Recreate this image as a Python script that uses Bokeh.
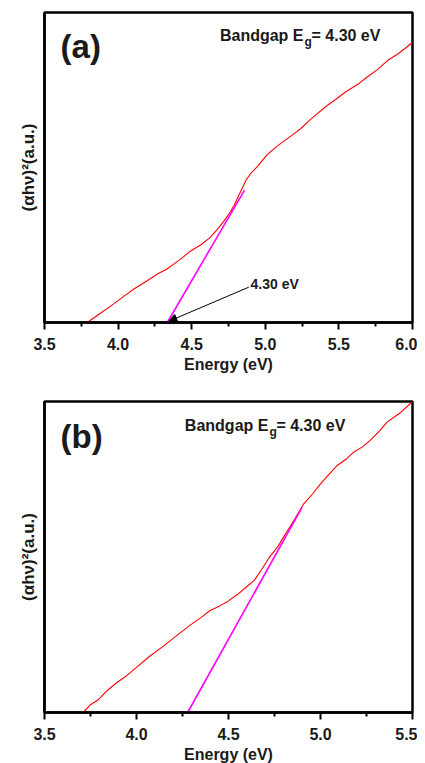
from bokeh.plotting import figure
from bokeh.layouts import column
from bokeh.models import Range1d, FixedTicker, PrintfTickFormatter, Arrow, NormalHead
from bokeh.core.properties import value
from bokeh.embed import file_html
from bokeh.resources import INLINE

# ---------------- data ----------------
# panel (a)
energy_a = [3.79, 3.88, 3.97, 4.04, 4.11, 4.19, 4.27, 4.33, 4.38, 4.44, 4.49, 4.56, 4.62, 4.67,
            4.72, 4.76, 4.79, 4.83, 4.87, 4.90, 4.95, 5.01, 5.07, 5.14, 5.19, 5.24, 5.30, 5.36,
            5.42, 5.48, 5.54, 5.58, 5.64, 5.69, 5.76, 5.83, 5.90, 5.96, 6.00]
signal_a = [0.0, 0.03, 0.06, 0.085, 0.109, 0.132, 0.157, 0.172, 0.189, 0.21, 0.23, 0.25, 0.272,
            0.298, 0.328, 0.355, 0.38, 0.42, 0.46, 0.48, 0.505, 0.54, 0.565, 0.59, 0.607, 0.625,
            0.652, 0.676, 0.70, 0.72, 0.742, 0.754, 0.772, 0.791, 0.815, 0.845, 0.866, 0.888, 0.904]
fit_x_a = [4.334, 4.858]
fit_y_a = [0.0, 0.426]

# panel (b)
energy_b = [3.71, 3.75, 3.79, 3.84, 3.89, 3.95, 4.00, 4.07, 4.15, 4.22, 4.29, 4.35, 4.40, 4.45,
            4.49, 4.55, 4.60, 4.64, 4.68, 4.72, 4.77, 4.81, 4.86, 4.91, 4.96, 5.00, 5.05, 5.09,
            5.14, 5.18, 5.23, 5.27, 5.32, 5.36, 5.43, 5.50]
signal_b = [0.0, 0.025, 0.04, 0.07, 0.095, 0.12, 0.145, 0.18, 0.215, 0.248, 0.28, 0.305, 0.328,
            0.342, 0.355, 0.38, 0.405, 0.425, 0.46, 0.497, 0.535, 0.575, 0.622, 0.672, 0.705,
            0.735, 0.768, 0.794, 0.815, 0.837, 0.855, 0.875, 0.905, 0.933, 0.962, 1.0]
fit_x_b = [4.278, 4.90]
fit_y_b = [0.0, 0.66]

ticks_a = [3.5, 4.0, 4.5, 5.0, 5.5, 6.0]
minor_a = [3.75, 4.25, 4.75, 5.25, 5.75]
ticks_b = [3.5, 4.0, 4.5, 5.0, 5.5]
minor_b = [3.75, 4.25, 4.75, 5.25]

FONT = "Liberation Sans"
YLABEL = "(\u03b1h\u03bd)\u00b2(a.u.)"
TXT = "#1a1a1a"


def make_panel(xr, ticks, minor, top_border, bottom_border, fheight):
    p = figure(frame_width=368, frame_height=fheight,
               x_range=Range1d(*xr), y_range=Range1d(0, 1),
               output_backend="svg", toolbar_location=None,
               min_border_left=44, min_border_right=5, min_border_top=top_border,
               min_border_bottom=bottom_border)
    p.grid.visible = False
    p.outline_line_color = "black"
    p.outline_line_width = 2.5
    p.background_fill_color = "white"
    p.border_fill_color = "white"

    xa = p.xaxis[0]
    xa.ticker = FixedTicker(ticks=ticks, minor_ticks=minor)
    xa.formatter = PrintfTickFormatter(format="%.1f")
    xa.axis_line_width = 2.5
    xa.major_tick_line_width = 2
    xa.minor_tick_line_width = 2
    xa.major_tick_in = 0
    xa.major_tick_out = 7
    xa.minor_tick_in = 0
    xa.minor_tick_out = 4
    xa.major_label_text_font = FONT
    xa.major_label_text_font_style = "bold"
    xa.major_label_text_font_size = "16px"
    xa.major_label_text_color = TXT
    xa.major_label_standoff = 8
    xa.axis_label = "Energy (eV)"
    xa.axis_label_text_font = FONT
    xa.axis_label_text_font_style = "bold"
    xa.axis_label_text_font_size = "16px"
    xa.axis_label_text_color = TXT
    xa.axis_label_standoff = 3

    ya = p.yaxis[0]
    ya.ticker = FixedTicker(ticks=[])
    ya.axis_line_width = 2.5
    ya.major_tick_out = 0
    ya.major_tick_in = 0
    ya.minor_tick_out = 0
    ya.minor_tick_in = 0
    ya.major_label_standoff = 0
    ya.axis_label = YLABEL
    ya.axis_label_text_font = FONT
    ya.axis_label_text_font_style = "bold"
    ya.axis_label_text_font_size = "17px"
    ya.axis_label_text_color = TXT
    ya.axis_label_standoff = 7
    return p


def bandgap_label(p, x_anchor, y):
    p.text(x=[x_anchor], y=[y], text=["Bandgap E"], text_align="right", text_baseline="middle",
           text_font=value(FONT), text_font_style="bold", text_font_size="16px", text_color=TXT)
    p.text(x=[x_anchor], y=[y], text=["g"], text_align="left", text_baseline="middle",
           x_offset=1, y_offset=7,
           text_font=value(FONT), text_font_style="bold", text_font_size="12px", text_color=TXT)
    p.text(x=[x_anchor], y=[y], text=["= 4.30 eV"], text_align="left", text_baseline="middle",
           x_offset=8,
           text_font=value(FONT), text_font_style="bold", text_font_size="16px", text_color=TXT)


# ---------------- panel (a) ----------------
pa = make_panel((3.5, 6.0), ticks_a, minor_a, 12, 55, 310)
pa.line(energy_a, signal_a, line_color="red", line_width=1.1)
pa.line(fit_x_a, fit_y_a, line_color="magenta", line_width=1.6)
pa.text(x=[3.609], y=[0.89], text=["(a)"], text_align="left", text_baseline="middle",
        text_font=value(FONT), text_font_style="bold", text_font_size="33px", text_color=TXT)
bandgap_label(pa, 5.2595, 0.926)
pa.add_layout(Arrow(x_start=4.888, y_start=0.114, x_end=4.345, y_end=0.004,
                    line_color="black", line_width=1,
                    end=NormalHead(size=8, fill_color="black", line_color="black")))
pa.text(x=[4.90], y=[0.123], text=["4.30 eV"], text_align="left", text_baseline="middle",
        text_font=value(FONT), text_font_style="bold", text_font_size="14px", text_color=TXT)

# ---------------- panel (b) ----------------
pb = make_panel((3.5, 5.5), ticks_b, minor_b, 24, 0, 311)
pb.line(energy_b, signal_b, line_color="red", line_width=1.1)
pb.line(fit_x_b, fit_y_b, line_color="magenta", line_width=1.6)
pb.text(x=[3.587], y=[0.888], text=["(b)"], text_align="left", text_baseline="middle",
        text_font=value(FONT), text_font_style="bold", text_font_size="33px", text_color=TXT)
bandgap_label(pb, 4.717, 0.923)

layout = column(pa, pb, spacing=0)
open("out.html", "w").write(file_html(layout, INLINE))
